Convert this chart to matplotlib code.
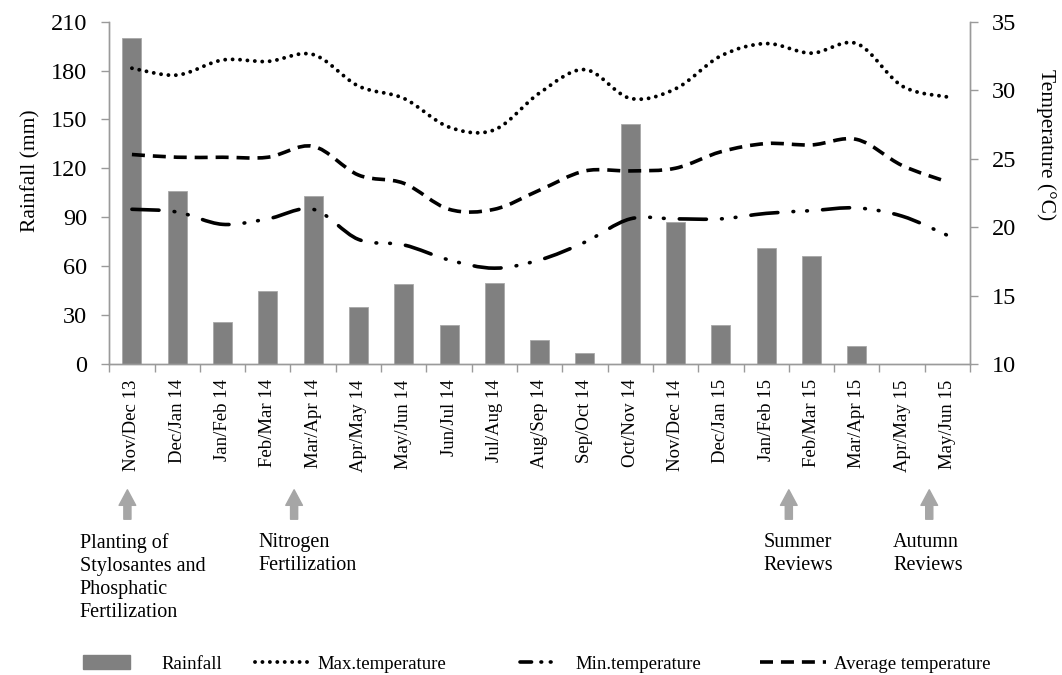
# Rainfall and temperature chart, Nov/Dec 13 - May/Jun 15
import matplotlib
matplotlib.use("Agg")
import matplotlib.pyplot as plt
import numpy as np
from matplotlib.path import Path
from matplotlib.patches import PathPatch, Patch
from matplotlib.lines import Line2D

plt.rcParams['font.family'] = ['Liberation Serif', 'DejaVu Serif']

# Data
periods = ["Nov/Dec 13", "Dec/Jan 14", "Jan/Feb 14", "Feb/Mar 14", "Mar/Apr 14",
           "Apr/May 14", "May/Jun 14", "Jun/Jul 14", "Jul/Aug 14", "Aug/Sep 14",
           "Sep/Oct 14", "Oct/Nov 14", "Nov/Dec 14", "Dec/Jan 15", "Jan/Feb 15",
           "Feb/Mar 15", "Mar/Apr 15", "Apr/May 15", "May/Jun 15"]
rainfall = [200, 106, 26, 45, 103, 35, 49, 24, 50, 15, 7, 147, 87, 24, 71, 66, 11, 0, 0]
t_max = [31.6, 31.1, 32.2, 32.1, 32.6, 30.3, 29.4, 27.3, 27.1, 29.8, 31.5, 29.4,
         30.1, 32.5, 33.4, 32.7, 33.4, 30.3, 29.5]
t_min = [21.3, 21.1, 20.2, 20.6, 21.3, 19.1, 18.7, 17.6, 17.0, 17.6, 18.9, 20.6,
         20.6, 20.6, 21.0, 21.2, 21.4, 20.8, 19.4]
t_avg = [25.3, 25.1, 25.1, 25.1, 25.9, 23.8, 23.2, 21.3, 21.3, 22.7, 24.1, 24.1,
         24.3, 25.5, 26.1, 26.0, 26.4, 24.5, 23.3]

# Event notes below the axis: (x position in category units, text)
events = [(-0.1, "Planting of\nStylosantes and\nPhosphatic\nFertilization"),
          (3.58, "Nitrogen\nFertilization"),
          (14.5, "Summer\nReviews"),
          (17.6, "Autumn\nReviews")]
note_x_shift = [-1.05, -0.78, -0.55, -0.8]

GREY = "#808080"
AXIS_GREY = "#9a9a9a"
ARROW_GREY = "#a6a6a6"

# (dash pattern, linewidth, capstyle)
STYLE_MAX = ((0, (0.01, 1.9)), 2.8, "round")
STYLE_AVG = ((0, (3.6, 2.2)), 2.6, "butt")
STYLE_MIN = ((0, (7.5, 4.2, 0.2, 3.6, 0.2, 4.2)), 2.6, "round")
STYLE_MIN_KEY = ((0, (3.2, 2.6, 0.2, 2.4, 0.2, 10)), 2.6, "round")


def smooth_path(x, y):
    """Bezier path through the points (Catmull-Rom style, like a smoothed line)."""
    x = np.asarray(x, float)
    y = np.asarray(y, float)
    n = len(x)
    verts = [(x[0], y[0])]
    codes = [Path.MOVETO]
    for i in range(n - 1):
        i0 = max(i - 1, 0)
        i3 = min(i + 2, n - 1)
        c1 = (x[i] + (x[i + 1] - x[i0]) / 6, y[i] + (y[i + 1] - y[i0]) / 6)
        c2 = (x[i + 1] - (x[i3] - x[i]) / 6, y[i + 1] - (y[i3] - y[i]) / 6)
        verts += [c1, c2, (x[i + 1], y[i + 1])]
        codes += [Path.CURVE4] * 3
    return Path(verts, codes)


def key_line(style):
    ls, lw, cap = style
    return Line2D([], [], color="black", linestyle=ls, linewidth=lw, dash_capstyle=cap)


fig = plt.figure(figsize=(10.62, 6.75), dpi=100)
ax = fig.add_axes([0.1029, 0.4607, 0.8105, 0.5072])
ax2 = ax.twinx()

x = np.arange(len(periods))
ax.bar(x, rainfall, width=0.42, color=GREY, edgecolor="#a8a8a8", linewidth=0.6, zorder=2)

for series, (ls, lw, cap) in [(t_max, STYLE_MAX), (t_avg, STYLE_AVG), (t_min, STYLE_MIN)]:
    patch = PathPatch(smooth_path(x, series), fill=False, edgecolor="black",
                      linestyle=ls, linewidth=lw, capstyle=cap)
    ax2.add_patch(patch)

# Axes setup
ax.set_xlim(-0.5, len(periods) - 0.5)
ax.set_ylim(0, 210)
ax.set_yticks(np.arange(0, 211, 30))
ax2.set_ylim(10, 35)
ax2.set_yticks(np.arange(10, 36, 5))

ax.set_xticks(x)
ax.set_xticklabels(periods, rotation=90, fontsize=13.5)
ax.set_xticks(np.arange(-0.5, len(periods), 1), minor=True)
ax.tick_params(axis="x", which="major", length=0, pad=11)
ax.tick_params(axis="x", which="minor", length=6, width=1, color=AXIS_GREY, direction="out")
ax.tick_params(axis="y", length=5.5, width=1, color=AXIS_GREY, labelsize=17.5, pad=10.5)
ax2.tick_params(axis="y", length=5.5, width=1, color=AXIS_GREY, labelsize=17.5, pad=10.5)

for a in (ax, ax2):
    a.spines["top"].set_visible(False)
    for s in ("left", "right", "bottom"):
        a.spines[s].set_color(AXIS_GREY)
        a.spines[s].set_linewidth(1)

ax.set_ylabel("Rainfall (mm)", fontsize=15.5)
ax.yaxis.set_label_coords(-0.08, 0.565)
ax2.set_ylabel("Temperature (\u00b0C)", fontsize=15.5, rotation=-90, va="bottom")
ax2.yaxis.set_label_coords(1.077, 0.64)

# Event arrows and notes
for (ex, text), dx in zip(events, note_x_shift):
    ax.annotate("", xy=(ex, 1 - 487 / 675), xytext=(ex, 1 - 522 / 675),
                xycoords=("data", "figure fraction"), textcoords=("data", "figure fraction"),
                arrowprops=dict(arrowstyle="simple,head_length=0.7,head_width=0.75,tail_width=0.32",
                                color=ARROW_GREY, mutation_scale=16),
                annotation_clip=False)
    ax.annotate(text, xy=(ex + dx, 1 - 533 / 675), xycoords=("data", "figure fraction"),
                ha="left", va="top", fontsize=14.5, linespacing=1.28, annotation_clip=False)

# Legend, one entry per block as in the original
legend_items = [
    (Patch(facecolor=GREY, edgecolor=GREY), "Rainfall", 83, 2.5, 1.7),
    (key_line(STYLE_MAX), "Max.temperature", 255, 2.9, 0.45),
    (key_line(STYLE_MIN_KEY), "Min.temperature", 520, 2.5, 0.45),
    (key_line(STYLE_AVG), "Average temperature", 760, 3.5, 0.45),
]
for handle, label, px, hlen, hpad in legend_items:
    fig.legend([handle], [label], loc="center left",
               bbox_to_anchor=(px / 1062, 1 - 664 / 675), frameon=False,
               fontsize=13.5, handlelength=hlen, handletextpad=hpad,
               borderpad=0, borderaxespad=0)

fig.savefig("out.png", dpi=100)
